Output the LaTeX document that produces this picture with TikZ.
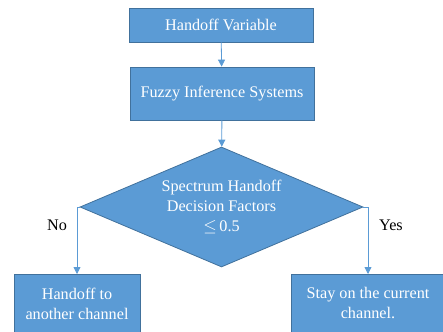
\documentclass[tikz,border=0pt]{standalone}
\usepackage{fontspec}
\setmainfont{Liberation Serif}
\usepackage{amssymb}
\usetikzlibrary{arrows.meta,positioning,shapes.geometric}
\definecolor{boxblue}{HTML}{5B9BD5}
\definecolor{edgeblue}{HTML}{41719C}
\tikzset{
  stepbox/.style={draw=edgeblue, fill=boxblue, text=white, line width=0.8pt,
                  align=center, font=\fontsize{16.2}{20}\selectfont, inner sep=0pt},
  choice/.style={diamond, draw=edgeblue, fill=boxblue, line width=0.8pt,
                 inner sep=0pt, aspect=2.36},
  link/.style={draw=boxblue, line width=0.8pt, -{Triangle[length=7pt,width=7pt]}},
  tag/.style={font=\fontsize{16.2}{20}\selectfont}
}
\begin{document}
\begin{tikzpicture}[x=1pt,y=-1pt]
  \useasboundingbox (0,0) rectangle (443,331);
  \clip (0,0) rectangle (443,331);
  % boxes
  \node[stepbox, minimum width=184pt, minimum height=34pt] (var) at (221,25) {Handoff Variable};
  \node[stepbox, minimum width=184pt, minimum height=53pt] (fis) at (222,93.5) {Fuzzy Inference Systems};
  \node[choice, minimum width=283pt, minimum height=120pt] (dec) at (221.5,207) {};
  \node[tag, text=white, align=center] (dectext) at (dec.center)
       {Spectrum Handoff\\Decision Factors\\$\leq$\,0.5};
  \node[stepbox, minimum width=126pt, minimum height=58pt, anchor=north] (other) at (77,274)
       {Handoff to\\another channel};
  \node[stepbox, minimum width=154pt, minimum height=58pt, anchor=north] (stay) at (368,274)
       {Stay on the current\\channel.};
  % arrows
  \draw[link] (var) -- (fis);
  \draw[link] (fis) -- (dec);
  \draw[link] (dec.west) -| (other.north);
  \draw[link] (dec.east) -| (stay.north);
  \node[tag] (no) at (57,225) {No};
  \node[tag] (yes) at (391,225) {Yes};
\end{tikzpicture}
\end{document}
